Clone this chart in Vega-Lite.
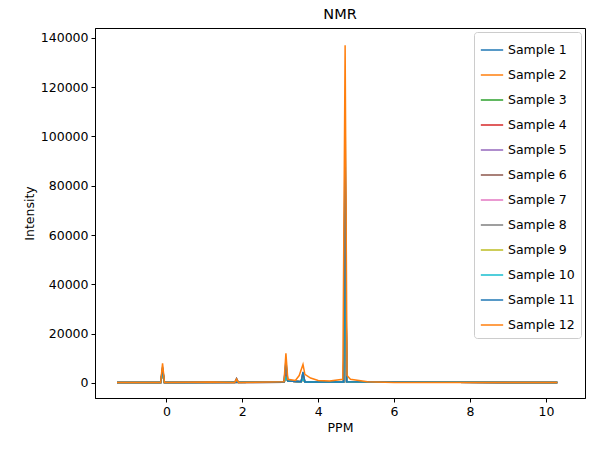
{
  "$schema": "https://vega.github.io/schema/vega-lite/v6.json",
  "width": 490,
  "height": 370,
  "autosize": {"type": "none"},
  "padding": {"left": 95, "top": 28, "right": 13, "bottom": 55},
  "config": {
    "font": "DejaVu Sans",
    "view": {"stroke": "black", "strokeWidth": 1},
    "axis": {"grid": false, "domainColor": "black", "tickColor": "black", "labelColor": "black", "titleColor": "black", "labelFontSize": 12.5, "titleFontSize": 12.5, "titleFontWeight": "normal", "tickSize": 4, "labelPadding": 3}
  },
  "title": {"text": "NMR", "fontSize": 14.5, "fontWeight": "normal", "offset": 6},
  "data": {"values": [
    {"s":"Sample 1","x":-1.3,"y":150},{"s":"Sample 1","x":-0.15,"y":150},{"s":"Sample 1","x":-0.1,"y":6500},{"s":"Sample 1","x":-0.05,"y":150},{"s":"Sample 1","x":3.1,"y":300},{"s":"Sample 1","x":3.15,"y":9000},{"s":"Sample 1","x":3.2,"y":800},{"s":"Sample 1","x":3.55,"y":500},{"s":"Sample 1","x":3.6,"y":4500},{"s":"Sample 1","x":3.65,"y":400},{"s":"Sample 1","x":4.67,"y":400},{"s":"Sample 1","x":4.71,"y":110000},{"s":"Sample 1","x":4.75,"y":500},{"s":"Sample 1","x":10.3,"y":150},
    {"s":"Sample 2","x":-1.3,"y":150},{"s":"Sample 2","x":-0.15,"y":150},{"s":"Sample 2","x":-0.1,"y":5000},{"s":"Sample 2","x":-0.05,"y":150},{"s":"Sample 2","x":3.1,"y":300},{"s":"Sample 2","x":3.15,"y":7000},{"s":"Sample 2","x":3.2,"y":800},{"s":"Sample 2","x":3.55,"y":500},{"s":"Sample 2","x":3.6,"y":4000},{"s":"Sample 2","x":3.65,"y":400},{"s":"Sample 2","x":4.67,"y":400},{"s":"Sample 2","x":4.71,"y":95000},{"s":"Sample 2","x":4.75,"y":500},{"s":"Sample 2","x":10.3,"y":150},
    {"s":"Sample 3","x":-1.3,"y":150},{"s":"Sample 3","x":-0.15,"y":150},{"s":"Sample 3","x":-0.1,"y":4000},{"s":"Sample 3","x":-0.05,"y":150},{"s":"Sample 3","x":3.1,"y":300},{"s":"Sample 3","x":3.15,"y":2500},{"s":"Sample 3","x":3.2,"y":800},{"s":"Sample 3","x":3.55,"y":500},{"s":"Sample 3","x":3.6,"y":2000},{"s":"Sample 3","x":3.65,"y":400},{"s":"Sample 3","x":4.67,"y":400},{"s":"Sample 3","x":4.71,"y":90000},{"s":"Sample 3","x":4.75,"y":500},{"s":"Sample 3","x":10.3,"y":150},
    {"s":"Sample 4","x":-1.3,"y":150},{"s":"Sample 4","x":-0.15,"y":150},{"s":"Sample 4","x":-0.1,"y":4500},{"s":"Sample 4","x":-0.05,"y":150},{"s":"Sample 4","x":3.1,"y":300},{"s":"Sample 4","x":3.15,"y":3000},{"s":"Sample 4","x":3.2,"y":800},{"s":"Sample 4","x":3.55,"y":500},{"s":"Sample 4","x":3.6,"y":2500},{"s":"Sample 4","x":3.65,"y":400},{"s":"Sample 4","x":4.67,"y":400},{"s":"Sample 4","x":4.71,"y":85000},{"s":"Sample 4","x":4.75,"y":500},{"s":"Sample 4","x":10.3,"y":150},
    {"s":"Sample 5","x":-1.3,"y":150},{"s":"Sample 5","x":-0.15,"y":150},{"s":"Sample 5","x":-0.1,"y":5000},{"s":"Sample 5","x":-0.05,"y":150},{"s":"Sample 5","x":3.1,"y":300},{"s":"Sample 5","x":3.15,"y":2000},{"s":"Sample 5","x":3.2,"y":800},{"s":"Sample 5","x":3.55,"y":500},{"s":"Sample 5","x":3.6,"y":1800},{"s":"Sample 5","x":3.65,"y":400},{"s":"Sample 5","x":4.67,"y":400},{"s":"Sample 5","x":4.71,"y":80000},{"s":"Sample 5","x":4.75,"y":500},{"s":"Sample 5","x":10.3,"y":150},
    {"s":"Sample 6","x":-1.3,"y":150},{"s":"Sample 6","x":-0.15,"y":150},{"s":"Sample 6","x":-0.1,"y":5500},{"s":"Sample 6","x":-0.05,"y":150},{"s":"Sample 6","x":1.8,"y":150},{"s":"Sample 6","x":1.85,"y":1800},{"s":"Sample 6","x":1.9,"y":150},{"s":"Sample 6","x":3.1,"y":300},{"s":"Sample 6","x":3.15,"y":2500},{"s":"Sample 6","x":3.2,"y":800},{"s":"Sample 6","x":3.55,"y":500},{"s":"Sample 6","x":3.6,"y":2000},{"s":"Sample 6","x":3.65,"y":400},{"s":"Sample 6","x":4.67,"y":400},{"s":"Sample 6","x":4.71,"y":88000},{"s":"Sample 6","x":4.75,"y":500},{"s":"Sample 6","x":10.3,"y":150},
    {"s":"Sample 7","x":-1.3,"y":150},{"s":"Sample 7","x":-0.15,"y":150},{"s":"Sample 7","x":-0.1,"y":4800},{"s":"Sample 7","x":-0.05,"y":150},{"s":"Sample 7","x":3.1,"y":300},{"s":"Sample 7","x":3.15,"y":2200},{"s":"Sample 7","x":3.2,"y":800},{"s":"Sample 7","x":3.55,"y":500},{"s":"Sample 7","x":3.6,"y":1900},{"s":"Sample 7","x":3.65,"y":400},{"s":"Sample 7","x":4.67,"y":400},{"s":"Sample 7","x":4.71,"y":92000},{"s":"Sample 7","x":4.75,"y":500},{"s":"Sample 7","x":10.3,"y":150},
    {"s":"Sample 8","x":-1.3,"y":150},{"s":"Sample 8","x":-0.15,"y":150},{"s":"Sample 8","x":-0.1,"y":5200},{"s":"Sample 8","x":-0.05,"y":150},{"s":"Sample 8","x":1.8,"y":150},{"s":"Sample 8","x":1.85,"y":1700},{"s":"Sample 8","x":1.9,"y":150},{"s":"Sample 8","x":3.1,"y":300},{"s":"Sample 8","x":3.15,"y":2600},{"s":"Sample 8","x":3.2,"y":800},{"s":"Sample 8","x":3.55,"y":500},{"s":"Sample 8","x":3.6,"y":2100},{"s":"Sample 8","x":3.65,"y":400},{"s":"Sample 8","x":4.67,"y":400},{"s":"Sample 8","x":4.71,"y":86000},{"s":"Sample 8","x":4.75,"y":500},{"s":"Sample 8","x":10.3,"y":150},
    {"s":"Sample 9","x":-1.3,"y":150},{"s":"Sample 9","x":-0.15,"y":150},{"s":"Sample 9","x":-0.1,"y":4600},{"s":"Sample 9","x":-0.05,"y":150},{"s":"Sample 9","x":3.1,"y":300},{"s":"Sample 9","x":3.15,"y":2300},{"s":"Sample 9","x":3.2,"y":800},{"s":"Sample 9","x":3.55,"y":500},{"s":"Sample 9","x":3.6,"y":1700},{"s":"Sample 9","x":3.65,"y":400},{"s":"Sample 9","x":4.67,"y":400},{"s":"Sample 9","x":4.71,"y":83000},{"s":"Sample 9","x":4.75,"y":500},{"s":"Sample 9","x":10.3,"y":150},
    {"s":"Sample 10","x":-1.3,"y":150},{"s":"Sample 10","x":-0.15,"y":150},{"s":"Sample 10","x":-0.1,"y":4400},{"s":"Sample 10","x":-0.05,"y":150},{"s":"Sample 10","x":3.1,"y":300},{"s":"Sample 10","x":3.15,"y":2100},{"s":"Sample 10","x":3.2,"y":800},{"s":"Sample 10","x":3.55,"y":500},{"s":"Sample 10","x":3.6,"y":1600},{"s":"Sample 10","x":3.65,"y":400},{"s":"Sample 10","x":4.67,"y":400},{"s":"Sample 10","x":4.71,"y":81000},{"s":"Sample 10","x":4.75,"y":500},{"s":"Sample 10","x":10.3,"y":150},
    {"s":"Sample 11","x":-1.3,"y":150},{"s":"Sample 11","x":-0.15,"y":150},{"s":"Sample 11","x":-0.1,"y":6000},{"s":"Sample 11","x":-0.05,"y":150},{"s":"Sample 11","x":3.1,"y":300},{"s":"Sample 11","x":3.15,"y":8000},{"s":"Sample 11","x":3.2,"y":800},{"s":"Sample 11","x":3.55,"y":500},{"s":"Sample 11","x":3.6,"y":4200},{"s":"Sample 11","x":3.65,"y":400},{"s":"Sample 11","x":4.67,"y":400},{"s":"Sample 11","x":4.71,"y":100000},{"s":"Sample 11","x":4.75,"y":500},{"s":"Sample 11","x":10.3,"y":150},
    {"s":"Sample 12","x":-1.3,"y":200},{"s":"Sample 12","x":-0.15,"y":200},{"s":"Sample 12","x":-0.1,"y":8000},{"s":"Sample 12","x":-0.05,"y":200},{"s":"Sample 12","x":1.2,"y":400},{"s":"Sample 12","x":1.8,"y":200},{"s":"Sample 12","x":1.85,"y":1500},{"s":"Sample 12","x":1.9,"y":200},{"s":"Sample 12","x":3.1,"y":500},{"s":"Sample 12","x":3.15,"y":12000},{"s":"Sample 12","x":3.2,"y":1500},{"s":"Sample 12","x":3.4,"y":1000},{"s":"Sample 12","x":3.5,"y":3000},{"s":"Sample 12","x":3.6,"y":7500},{"s":"Sample 12","x":3.65,"y":3500},{"s":"Sample 12","x":3.8,"y":2000},{"s":"Sample 12","x":4.0,"y":1000},{"s":"Sample 12","x":4.3,"y":800},{"s":"Sample 12","x":4.65,"y":1500},{"s":"Sample 12","x":4.71,"y":137000},{"s":"Sample 12","x":4.76,"y":3000},{"s":"Sample 12","x":4.85,"y":1500},{"s":"Sample 12","x":5.3,"y":500},{"s":"Sample 12","x":6.0,"y":200},{"s":"Sample 12","x":10.3,"y":200}
  ]},
  "mark": {"type": "line", "strokeWidth": 1.5, "clip": true},
  "encoding": {
    "x": {"field": "x", "type": "quantitative", "title": "PPM", "scale": {"domain": [-1.88, 11.03], "nice": false, "zero": false}, "axis": {"values": [0, 2, 4, 6, 8, 10]}},
    "y": {"field": "y", "type": "quantitative", "title": "Intensity", "scale": {"domain": [-6100, 144000], "nice": false}, "axis": {"values": [0, 20000, 40000, 60000, 80000, 100000, 120000, 140000], "format": "d"}},
    "color": {
      "field": "s", "type": "nominal",
      "scale": {
        "domain": ["Sample 1","Sample 2","Sample 3","Sample 4","Sample 5","Sample 6","Sample 7","Sample 8","Sample 9","Sample 10","Sample 11","Sample 12"],
        "range": ["#1f77b4","#ff7f0e","#2ca02c","#d62728","#9467bd","#8c564b","#e377c2","#7f7f7f","#bcbd22","#17becf","#1f77b4","#ff7f0e"]
      },
      "legend": {"title": null, "orient": "top-right", "symbolType": "stroke", "symbolStrokeWidth": 1.5, "symbolSize": 500, "labelFontSize": 12.5, "labelColor": "black", "rowPadding": 6, "padding": 6, "offset": 4, "fillColor": "white", "strokeColor": "#cccccc", "cornerRadius": 3}
    },
    "order": {"field": "s"}
  }
}
